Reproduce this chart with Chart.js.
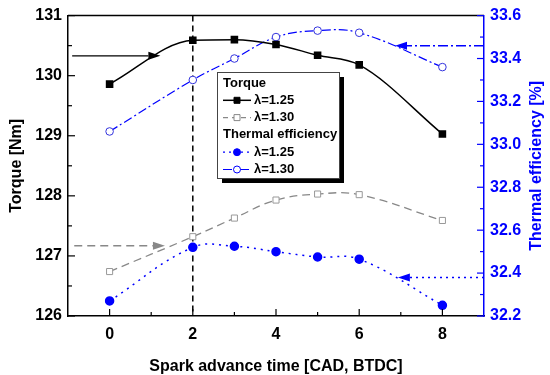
<!DOCTYPE html>
<html>
<head>
<meta charset="utf-8">
<script src="https://cdn.jsdelivr.net/npm/chart.js@4.4.0/dist/chart.umd.min.js"></script>
<style>
html, body { margin: 0; padding: 0; background: #fff; }
</style>
</head>
<body>
<canvas id="myChart" width="550" height="375"></canvas>
<script>
// data
const sparkAdvance = [0, 2, 3, 4, 5, 6, 8];
const torque125 = [129.86, 130.59, 130.60, 130.52, 130.34, 130.18, 129.03];
const torque130 = [126.74, 127.32, 127.63, 127.93, 128.03, 128.02, 127.59];
const eff125 = [32.27, 32.52, 32.525, 32.50, 32.475, 32.465, 32.25];
const eff130 = [33.06, 33.30, 33.40, 33.50, 33.53, 33.52, 33.36];

const xTicks = [0, 2, 4, 6, 8];
const torqueTicks = [126, 127, 128, 129, 130, 131];
const effTicks = [32.2, 32.4, 32.6, 32.8, 33.0, 33.2, 33.4, 33.6];

const markedAdvance = 2;
// arrows pointing at the axes: [x from, x to, value, axis]
const arrowMarks = [
    [-0.9, 1.22, 130.33, 'y'],
    [-0.85, 1.33, 127.17, 'y'],
    [9, 6.86, 33.46, 'y1'],
    [9, 6.93, 32.38, 'y1']
];

const FONT = "'Liberation Sans', Arial, sans-serif";
const BLUE = '#0000ff';

const pairs = vals => vals.map((v, i) => ({ x: sparkAdvance[i], y: v }));

function drawArrow(ctx, x1, y, x2, color, dash, width) {
    const dir = Math.sign(x2 - x1);
    const head = 12;
    ctx.save();
    ctx.strokeStyle = color;
    ctx.fillStyle = color;
    ctx.lineWidth = width;
    ctx.setLineDash(dash);
    ctx.beginPath();
    ctx.moveTo(x1, y);
    ctx.lineTo(x2 - dir * head, y);
    ctx.stroke();
    ctx.setLineDash([]);
    ctx.beginPath();
    ctx.moveTo(x2, y);
    ctx.lineTo(x2 - dir * head, y - 4);
    ctx.lineTo(x2 - dir * head, y + 4);
    ctx.closePath();
    ctx.fill();
    ctx.restore();
}

function legendSymbol(ctx, x, y, item) {
    ctx.save();
    ctx.strokeStyle = item.color;
    ctx.lineWidth = item.width;
    ctx.setLineDash(item.dash);
    ctx.beginPath();
    ctx.moveTo(x, y);
    ctx.lineTo(x + 28, y);
    ctx.stroke();
    ctx.setLineDash([]);
    const mx = x + 14;
    ctx.lineWidth = 1;
    ctx.fillStyle = item.filled ? item.color : '#fff';
    ctx.beginPath();
    if (item.shape === 'rect') {
        ctx.rect(mx - 3, y - 3, 6, 6);
    } else {
        ctx.arc(mx, y, 3.5, 0, Math.PI * 2);
    }
    ctx.fill();
    ctx.stroke();
    ctx.restore();
}

const legendRows = [
    { header: 'Torque' },
    { label: 'λ=1.25', color: '#000', width: 1.5, dash: [], shape: 'rect', filled: true },
    { label: 'λ=1.30', color: '#888', width: 1.2, dash: [5, 4], shape: 'rect', filled: false },
    { header: 'Thermal efficiency' },
    { label: 'λ=1.25', color: BLUE, width: 1.2, dash: [2, 4], shape: 'circle', filled: true },
    { label: 'λ=1.30', color: BLUE, width: 1.2, dash: [9, 3, 2, 3], shape: 'circle', filled: false }
];

const decor = {
    id: 'decor',
    beforeDatasetsDraw(chart) {
        const { ctx, chartArea: a, scales } = chart;
        const px = scales.x.getPixelForValue(markedAdvance);
        ctx.save();
        ctx.strokeStyle = '#000';
        ctx.lineWidth = 1.5;
        ctx.setLineDash([6, 4]);
        ctx.beginPath();
        ctx.moveTo(px, a.top);
        ctx.lineTo(px, a.bottom);
        ctx.stroke();
        ctx.restore();
    },
    afterDraw(chart) {
        const { ctx, chartArea: a, scales } = chart;

        // top frame line
        ctx.save();
        ctx.strokeStyle = '#000';
        ctx.lineWidth = 1.5;
        ctx.beginPath();
        ctx.moveTo(a.left, a.top);
        ctx.lineTo(a.right, a.top);
        ctx.stroke();

        // inward ticks, major + minor
        const tickSet = (scale, color, draw) => {
            const vals = scale.ticks.map(t => t.value);
            ctx.strokeStyle = color;
            vals.forEach((v, i) => {
                draw(scale.getPixelForValue(v), 7);
                if (i < vals.length - 1) draw(scale.getPixelForValue((v + vals[i + 1]) / 2), 4);
            });
        };
        ctx.lineWidth = 1.2;
        tickSet(scales.x, '#000', (p, len) => {
            ctx.beginPath(); ctx.moveTo(p, a.bottom); ctx.lineTo(p, a.bottom - len); ctx.stroke();
        });
        tickSet(scales.y, '#000', (p, len) => {
            ctx.beginPath(); ctx.moveTo(a.left, p); ctx.lineTo(a.left + len, p); ctx.stroke();
        });
        tickSet(scales.y1, BLUE, (p, len) => {
            ctx.beginPath(); ctx.moveTo(a.right, p); ctx.lineTo(a.right - len, p); ctx.stroke();
        });
        ctx.restore();

        // arrows
        const styles = [
            ['#000', [], 1.2],
            ['#888', [8, 5], 1.5],
            [BLUE, [10, 3, 2, 3], 1.5],
            [BLUE, [2, 4], 1.5]
        ];
        arrowMarks.forEach((m, i) => {
            const s = styles[i];
            drawArrow(ctx, scales.x.getPixelForValue(m[0]), scales[m[3]].getPixelForValue(m[2]),
                scales.x.getPixelForValue(m[1]), s[0], s[1], s[2]);
        });

        // right axis title, reading bottom to top
        ctx.save();
        ctx.translate(537, (a.top + a.bottom) / 2);
        ctx.rotate(-Math.PI / 2);
        ctx.fillStyle = BLUE;
        ctx.font = 'bold 16px ' + FONT;
        ctx.textAlign = 'center';
        ctx.textBaseline = 'middle';
        ctx.fillText('Thermal efficiency [%]', 0, 0);
        ctx.restore();

        // legend box with shadow
        const bx = 217, by = 72, bw = 122, bh = 106;
        ctx.save();
        ctx.fillStyle = '#000';
        ctx.fillRect(bx + 5, by + 5, bw, bh);
        ctx.fillStyle = '#fff';
        ctx.fillRect(bx, by, bw, bh);
        ctx.strokeStyle = '#444';
        ctx.lineWidth = 1;
        ctx.strokeRect(bx + 0.5, by + 0.5, bw, bh);
        ctx.font = 'bold 13px ' + FONT;
        ctx.textBaseline = 'middle';
        ctx.fillStyle = '#000';
        legendRows.forEach((r, i) => {
            const y = by + 11 + i * 17.3;
            if (r.header) {
                ctx.fillText(r.header, bx + 6, y);
            } else {
                legendSymbol(ctx, bx + 6, y, r);
                ctx.fillStyle = '#000';
                ctx.fillText(r.label, bx + 37, y);
            }
        });
        ctx.restore();
    }
};

const ctx = document.getElementById('myChart').getContext('2d');
const myChart = new Chart(ctx, {
    type: 'line',
    data: {
        datasets: [{
            label: 'Torque λ=1.25',
            data: pairs(torque125),
            yAxisID: 'y',
            borderColor: '#000',
            borderWidth: 1.5,
            pointStyle: 'rect',
            pointRadius: 4.3,
            pointBackgroundColor: '#000',
            pointBorderColor: '#000',
            cubicInterpolationMode: 'monotone'
        }, {
            label: 'Torque λ=1.30',
            data: pairs(torque130),
            yAxisID: 'y',
            borderColor: '#888',
            borderWidth: 1.3,
            borderDash: [8, 5],
            pointStyle: 'rect',
            pointRadius: 4.3,
            pointBorderWidth: 1,
            pointBackgroundColor: '#fff',
            pointBorderColor: '#999',
            tension: 0.4
        }, {
            label: 'Thermal efficiency λ=1.25',
            data: pairs(eff125),
            yAxisID: 'y1',
            borderColor: BLUE,
            borderWidth: 1.5,
            borderDash: [2, 5],
            pointStyle: 'circle',
            pointRadius: 4,
            pointBackgroundColor: BLUE,
            pointBorderColor: BLUE,
            tension: 0.4
        }, {
            label: 'Thermal efficiency λ=1.30',
            data: pairs(eff130),
            yAxisID: 'y1',
            borderColor: BLUE,
            borderWidth: 1.2,
            borderDash: [9, 3, 2, 3],
            pointStyle: 'circle',
            pointRadius: 3.8,
            pointBorderWidth: 1,
            pointBackgroundColor: '#fff',
            pointBorderColor: '#3333dd',
            tension: 0.4
        }]
    },
    options: {
        responsive: false,
        animation: false,
        events: [],
        layout: { padding: { top: 11, right: 0, left: 0, bottom: 0 } },
        plugins: {
            legend: { display: false },
            tooltip: { enabled: false }
        },
        scales: {
            x: {
                type: 'linear',
                min: -1,
                max: 9,
                afterBuildTicks: s => { s.ticks = xTicks.map(v => ({ value: v })); },
                afterFit: s => { s.height = 59; },
                grid: { display: false, drawTicks: false },
                border: { color: '#000', width: 1.5 },
                ticks: { color: '#000', padding: 9, font: { family: FONT, size: 16, weight: 'bold' } },
                title: {
                    display: true,
                    text: 'Spark advance time [CAD, BTDC]',
                    color: '#000',
                    padding: 0,
                    font: { family: FONT, size: 16, weight: 'bold', lineHeight: 1 }
                }
            },
            y: {
                position: 'left',
                min: 126,
                max: 131,
                afterBuildTicks: s => { s.ticks = torqueTicks.map(v => ({ value: v })); },
                afterFit: s => { s.width = 68; },
                grid: { display: false, drawTicks: false },
                border: { color: '#000', width: 1.5 },
                ticks: { color: '#000', padding: 6, font: { family: FONT, size: 16, weight: 'bold' } },
                title: {
                    display: true,
                    text: 'Torque [Nm]',
                    color: '#000',
                    padding: { top: 9, bottom: 0 },
                    font: { family: FONT, size: 16, weight: 'bold', lineHeight: 1 }
                }
            },
            y1: {
                position: 'right',
                min: 32.2,
                max: 33.6,
                afterBuildTicks: s => { s.ticks = effTicks.map(v => ({ value: v })); },
                afterFit: s => { s.width = 66; },
                grid: { display: false, drawTicks: false },
                border: { color: BLUE, width: 1.5 },
                ticks: {
                    color: BLUE,
                    padding: 6,
                    font: { family: FONT, size: 16, weight: 'bold' },
                    callback: v => v.toFixed(1)
                }
            }
        }
    },
    plugins: [decor]
});
</script>
</body>
</html>
